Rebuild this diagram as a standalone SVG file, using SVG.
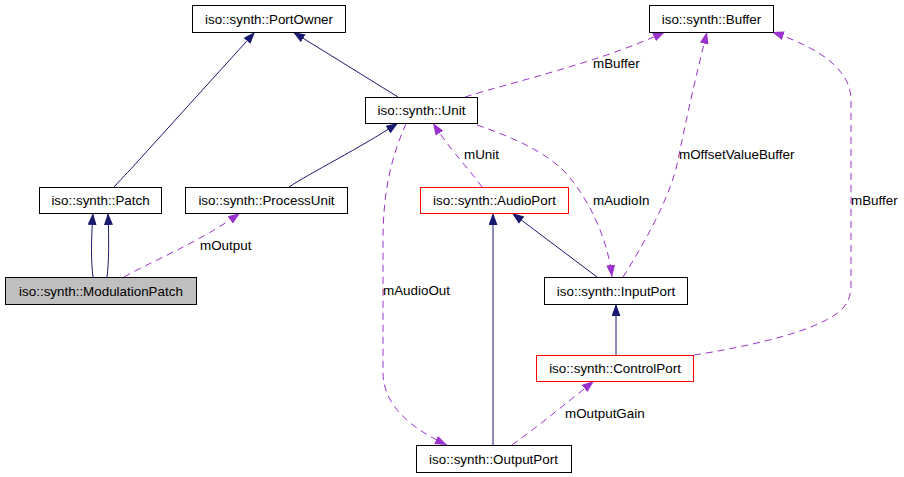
<svg xmlns="http://www.w3.org/2000/svg" width="904" height="477" viewBox="0 0 904 477">
<style>
.n rect{fill:#fff;stroke:#000;stroke-width:1}
.n.red rect{stroke:#ff0000}
.n.cur rect{fill:#bfbfbf}
text{font-family:"Liberation Sans",Arial,sans-serif;font-size:13.4px;fill:#000}
.n text{text-anchor:middle}
.inh{fill:none;stroke:#191970;stroke-width:1;marker-end:url(#an)}
.use{fill:none;stroke:#9a32cd;stroke-width:1;stroke-dasharray:7,5;marker-end:url(#ap)}
</style>
<defs>
<marker id="an" viewBox="0 0 12 9" refX="12" refY="4.5" markerWidth="12" markerHeight="9" markerUnits="userSpaceOnUse" orient="auto"><path d="M0,0 L12,4.5 L0,9 z" fill="#191970"/></marker>
<marker id="ap" viewBox="0 0 12 9" refX="12" refY="4.5" markerWidth="12" markerHeight="9" markerUnits="userSpaceOnUse" orient="auto"><path d="M0,0 L12,4.5 L0,9 z" fill="#9a32cd"/></marker>
</defs>
<rect width="904" height="477" fill="#fff"/>
<g id="edges">
<path class="inh" d="M114,187 C124,176 132,168 139,160 L255,32"/>
<path class="inh" d="M398,97 L293,32"/>
<path class="inh" d="M93,277 C91,262 91,240 93,213"/>
<path class="inh" d="M107,277 C109,262 109,240 108,213"/>
<path class="inh" d="M289,187 C310,173 360,148 398,123"/>
<path class="inh" d="M597,277 L512,213"/>
<path class="inh" d="M493,445 L493,213"/>
<path class="inh" d="M616,355 L616,304"/>
<path class="use" d="M124,277 C150,262 200,242 240,213"/>
<path class="use" d="M465,97 C520,80 600,62 665,32"/>
<path class="use" d="M406,124 C392,155 383,190 383,240 L383,372 C383,405 410,428 447,445"/>
<path class="use" d="M482,187 C470,170 450,150 433,123"/>
<path class="use" d="M477,125 C515,138 545,152 565,172 C590,200 608,240 612,277"/>
<path class="use" d="M623,277 C640,250 670,200 678,160 C690,100 700,60 707,32"/>
<path class="use" d="M694,355 C740,348 800,335 828,319 C845,310 851,300 851,285 L851,100 C851,70 820,48 772,32"/>
<path class="use" d="M512,445 C540,425 570,400 594,381"/>
<text x="593" y="68">mBuffer</text>
<text x="464" y="159">mUnit</text>
<text x="679" y="159">mOffsetValueBuffer</text>
<text x="593" y="205">mAudioIn</text>
<text x="851" y="205">mBuffer</text>
<text x="200" y="250">mOutput</text>
<text x="383" y="295">mAudioOut</text>
<text x="565" y="418">mOutputGain</text>
</g>
<g id="PortOwner" class="n"><rect x="192.5" y="5.5" width="153" height="27"/><text x="269" y="23.5">iso::synth::PortOwner</text></g>
<g id="Buffer" class="n"><rect x="649.5" y="5.5" width="124" height="27"/><text x="711.5" y="23.5">iso::synth::Buffer</text></g>
<g id="Unit" class="n"><rect x="365.5" y="97.5" width="112" height="26"/><text x="421.5" y="115">iso::synth::Unit</text></g>
<g id="Patch" class="n"><rect x="39.5" y="187.5" width="122" height="26"/><text x="100.5" y="205">iso::synth::Patch</text></g>
<g id="ProcessUnit" class="n"><rect x="185.5" y="187.5" width="162" height="26"/><text x="266.5" y="205">iso::synth::ProcessUnit</text></g>
<g id="AudioPort" class="n red"><rect x="420.5" y="187.5" width="148" height="26"/><text x="494.5" y="205">iso::synth::AudioPort</text></g>
<g id="ModulationPatch" class="n cur"><rect x="5.5" y="277.5" width="191" height="27"/><text x="101" y="295.5">iso::synth::ModulationPatch</text></g>
<g id="InputPort" class="n"><rect x="544.5" y="277.5" width="143" height="27"/><text x="616" y="295.5">iso::synth::InputPort</text></g>
<g id="ControlPort" class="n red"><rect x="536.5" y="355.5" width="157" height="26"/><text x="615" y="373">iso::synth::ControlPort</text></g>
<g id="OutputPort" class="n"><rect x="416.5" y="445.5" width="155" height="27"/><text x="493.5" y="463.5">iso::synth::OutputPort</text></g>
</svg>
